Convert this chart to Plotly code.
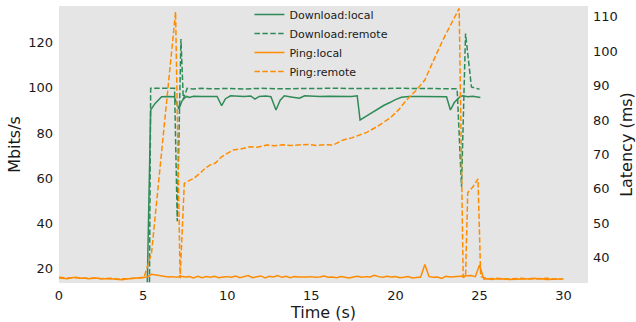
import plotly.graph_objects as go

# ---------------- data ----------------
dl_local_t = [5.25, 5.45, 5.7, 6.1, 6.5, 6.85, 7.13, 7.3, 7.45, 7.6, 7.75, 8.0, 8.5, 9.0, 9.4,
              9.67, 9.9, 10.2, 10.6, 11.0, 11.4, 11.65, 11.9, 12.3, 12.6, 12.9, 13.15, 13.4,
              13.8, 14.3, 14.6, 15.0, 15.5, 16.0, 16.5, 17.0, 17.4, 17.73, 17.9, 18.2, 18.68,
              19.0, 19.3, 19.67, 20.0, 20.36, 20.8, 21.5, 22.0, 22.5, 23.04, 23.27, 23.5,
              23.83, 24.0, 24.3, 24.6, 25.05]
dl_local_v = [14.0, 90.2, 93.0, 96.1, 96.2, 96.1, 90.7, 94.0, 95.5, 96.2, 95.8, 96.3, 96.2, 96.3, 96.2,
              92.1, 95.2, 96.5, 96.3, 96.2, 96.4, 95.0, 96.2, 96.4, 96.1, 90.2, 94.5, 96.5,
              96.0, 95.4, 96.5, 96.3, 96.2, 96.3, 96.2, 96.3, 96.2, 96.5, 85.8, 87.2, 89.5,
              90.8, 92.2, 93.5, 94.8, 95.8, 96.2, 96.2, 96.2, 96.2, 96.1, 90.2, 93.5,
              96.0, 96.5, 96.1, 96.3, 95.7]

dl_remote_t = [5.38, 5.45, 6.0, 6.5, 6.87, 7.03, 7.25, 7.39, 7.62, 8.0, 8.5, 9.0, 9.5, 10.0, 11.0,
               12.0, 13.0, 14.0, 15.0, 16.0, 17.0, 18.0, 19.0, 20.0, 21.0, 22.0, 23.0, 23.67,
               23.93, 24.17, 24.52, 25.0]
dl_remote_v = [14.0, 99.8, 99.8, 99.8, 99.8, 41.0, 121.6, 95.0, 99.8, 99.5, 99.8, 99.6, 99.8, 99.7, 99.5,
               99.8, 99.6, 99.8, 99.7, 99.8, 99.7, 99.8, 99.7, 99.8, 99.7, 99.8, 99.7, 99.6,
               56.3, 124.0, 100.4, 99.4]

ping_local_t = [i * 0.25 for i in range(121)]
ping_local_v = [34.1, 34.0, 33.9, 34.2, 34.3, 34.0, 34.1, 33.9, 34.0, 34.1, 33.9, 34.0, 33.9, 33.8,
                33.7, 33.6, 33.8, 33.9, 34.1, 34.0, 34.2, 34.4, 35.2, 35.0, 34.7, 34.5, 34.4, 34.5,
                34.3, 34.6, 34.4, 34.5, 34.1, 34.6, 34.2, 34.5, 34.3, 34.6, 34.2, 34.4, 34.5, 34.3,
                34.7, 34.2, 34.6, 34.8, 34.2, 34.5, 34.7, 34.1, 34.6, 34.4, 34.8, 34.3, 34.6, 34.2,
                34.5, 34.4, 34.3, 34.4, 34.5, 34.3, 34.4, 34.7, 34.3, 34.4, 34.2, 34.5, 34.3, 34.1,
                34.4, 34.6, 34.3, 34.5, 34.4, 34.9, 34.5, 34.3, 34.6, 34.4, 34.5, 34.2, 34.3, 34.5,
                34.1, 34.3, 34.4, 38.0, 34.5, 34.3, 34.4, 34.0, 34.6, 34.4, 34.5, 34.4, 34.5, 34.6,
                34.8, 34.5, 37.9, 33.8, 33.9, 33.7, 33.9, 33.8, 33.9, 33.7, 33.8, 33.9, 33.8, 33.8,
                33.9, 34.0, 33.8, 33.9, 33.7, 33.8, 33.9, 33.8, 33.8]

ping_remote_t = [0.0, 0.5, 1.0, 1.5, 2.0, 2.5, 3.0, 3.5, 4.0, 4.5, 5.05, 5.5, 6.93, 7.2, 7.45, 7.7,
                 8.0, 8.38, 8.7, 8.97, 9.3, 9.67, 10.0, 10.36, 10.8, 11.35, 11.8, 12.34, 12.8, 13.3,
                 13.8, 14.32, 14.8, 15.3, 15.8, 16.3, 16.9, 17.4, 17.88, 18.3, 18.88, 19.3, 19.67,
                 20.2, 20.66, 21.25, 21.75, 22.1, 22.44, 22.8, 23.23, 23.5, 23.79, 24.03, 24.17,
                 24.3, 24.6, 24.91, 25.07, 25.5, 26.0, 26.5, 27.0, 27.5, 28.0, 28.5, 29.0, 29.5, 29.9]
ping_remote_v = [34.3, 34.1, 34.2, 34.0, 34.1, 33.9, 34.0, 33.8, 33.9, 34.0, 34.2, 41.3, 111.4, 34.0, 61.6, 62.3,
                 63.0, 64.5, 66.0, 66.9, 67.5, 69.3, 70.2, 71.3, 71.6, 72.2, 72.1, 72.7, 72.5, 72.8,
                 72.6, 72.7, 72.9, 72.6, 72.8, 72.7, 74.2, 74.8, 75.6, 76.4, 78.0, 79.2, 80.5,
                 83.0, 85.8, 88.7, 91.6, 95.5, 99.4, 103.0, 107.1, 109.5, 112.4, 34.3, 34.5,
                 58.9, 60.5, 62.9, 34.5, 33.9, 34.0, 33.8, 33.9, 34.0, 33.8, 33.9, 34.0, 33.8, 33.9]

x_ticks = [0, 5, 10, 15, 20, 25, 30]
y_ticks = [20, 40, 60, 80, 100, 120]
y2_ticks = [40, 50, 60, 70, 80, 90, 100, 110]

GREEN = "#2e8b57"
ORANGE = "#ff8c00"
DASH = "5.5px,2.4px"
FONT = "DejaVu Sans"
TXT = "#1a1a1a"

fig = go.Figure()
fig.add_trace(go.Scatter(x=dl_local_t, y=dl_local_v, mode="lines", name="Download:local",
                         line=dict(color=GREEN, width=1.5)))
fig.add_trace(go.Scatter(x=dl_remote_t, y=dl_remote_v, mode="lines", name="Download:remote",
                         line=dict(color=GREEN, width=1.5, dash=DASH)))
fig.add_trace(go.Scatter(x=ping_local_t, y=ping_local_v, mode="lines", name="Ping:local",
                         line=dict(color=ORANGE, width=1.5), yaxis="y2"))
fig.add_trace(go.Scatter(x=ping_remote_t, y=ping_remote_v, mode="lines", name="Ping:remote",
                         line=dict(color=ORANGE, width=1.5, dash=DASH), yaxis="y2"))

axis_common = dict(showgrid=False, zeroline=False, showline=False, ticks="", ticklen=0,
                   automargin=False)

fig.update_layout(
    width=636, height=322,
    margin=dict(l=59, r=48, t=6, b=39, autoexpand=False),
    paper_bgcolor="white", plot_bgcolor="#e5e5e5",
    font=dict(family=FONT, size=13, color=TXT),
    showlegend=True,
    legend=dict(x=0.36, xanchor="left", y=1.022, yanchor="top", bgcolor="rgba(0,0,0,0)",
                font=dict(size=11, color=TXT), tracegroupgap=0),
    xaxis=dict(range=[0, 31.45], tickvals=x_ticks, ticklabelstandoff=3,
               title=dict(text="Time (s)", standoff=3), **axis_common),
    yaxis=dict(range=[13.7, 136.2], tickvals=y_ticks, ticklabelstandoff=5,
               title=dict(text="Mbits/s", standoff=3), **axis_common),
    yaxis2=dict(range=[32.65, 113.1], tickvals=y2_ticks, overlaying="y", side="right",
                ticklabelstandoff=4,
                title=dict(text="Latency (ms)", standoff=9), **axis_common),
)

fig.write_html("out.html", config={"displayModeBar": False},
               post_script="document.body.style.margin='0';document.body.style.padding='0';")
